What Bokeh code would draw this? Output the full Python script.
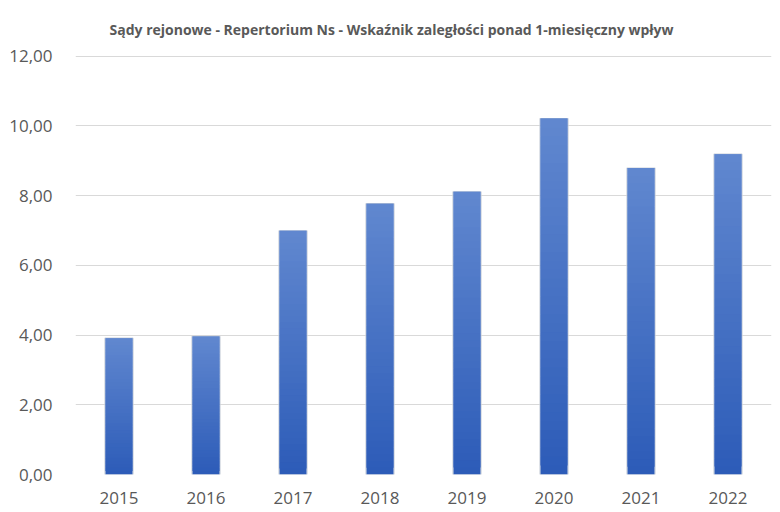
from bokeh.plotting import figure
from bokeh.models import FactorRange, Range1d, FixedTicker, CustomJSTickFormatter, ColumnDataSource
from bokeh.embed import file_html
from bokeh.resources import INLINE

# ---- data ----
years = ["2015", "2016", "2017", "2018", "2019", "2020", "2021", "2022"]
values = [3.91, 3.96, 6.99, 7.77, 8.11, 10.21, 8.79, 9.19]
y_ticks = [0, 2, 4, 6, 8, 10, 12]
title_text = "Sądy rejonowe - Repertorium Ns - Wskaźnik zaległości ponad 1-miesięczny wpływ"

FONT = "Open Sans"
TXT = "#595959"
GRID = "#d9d9d9"
TOP_RGB = (0x60, 0x87, 0xCF)
BOT_RGB = (0x2D, 0x5C, 0xB8)
N_SLICES = 40
BAR_W = 0.31

p = figure(
    x_range=FactorRange(*years), y_range=Range1d(0, 12.02),
    width=780, height=512, output_backend="svg", toolbar_location=None,
    min_border_left=75, min_border_right=9, min_border_top=55, min_border_bottom=38,
)
p.x_range.range_padding = 0
p.outline_line_color = None
p.background_fill_color = "white"
p.border_fill_color = "white"

# title
p.title.text = title_text
p.title.align = "left"
p.title.offset = 34
p.title.standoff = 34
p.title.text_font = FONT
p.title.text_font_size = "14px"
p.title.text_font_style = "bold"
p.title.text_color = TXT

# subtle shadow outline behind bars
p.vbar(x=years, top=values, bottom=0, width=BAR_W + 0.012,
       fill_color=None, line_color="#c9cfd9", line_width=1.2)

# gradient bars (per bar, lighter at the top); slices overlap to avoid seams
xs, bots, tops, cols = [], [], [], []
for yr, v in zip(years, values):
    for k in range(N_SLICES):
        t = k / (N_SLICES - 1)
        r = round(BOT_RGB[0] + (TOP_RGB[0] - BOT_RGB[0]) * t)
        g = round(BOT_RGB[1] + (TOP_RGB[1] - BOT_RGB[1]) * t)
        b = round(BOT_RGB[2] + (TOP_RGB[2] - BOT_RGB[2]) * t)
        xs.append(yr)
        bots.append(v * k / N_SLICES)
        tops.append(v * min(k + 2, N_SLICES) / N_SLICES)
        cols.append("#%02x%02x%02x" % (r, g, b))
src = ColumnDataSource(dict(x=xs, bottom=bots, top=tops, color=cols))
p.vbar(x="x", bottom="bottom", top="top", width=BAR_W, source=src,
       fill_color="color", line_color=None)

# axes
p.yaxis.ticker = FixedTicker(ticks=y_ticks)
p.yaxis.formatter = CustomJSTickFormatter(code="return tick.toFixed(2).replace('.', ',');")
for ax in (p.xaxis[0], p.yaxis[0]):
    ax.axis_line_color = None
    ax.major_tick_line_color = None
    ax.minor_tick_line_color = None
    ax.major_label_text_font = FONT
    ax.major_label_text_font_size = "17px"
    ax.major_label_text_color = TXT
p.yaxis.major_label_standoff = 17
p.xaxis.major_label_standoff = 11

p.xgrid.grid_line_color = None
p.ygrid.grid_line_color = GRID
p.ygrid.grid_line_width = 1

open("out.html", "w").write(file_html(p, INLINE))
